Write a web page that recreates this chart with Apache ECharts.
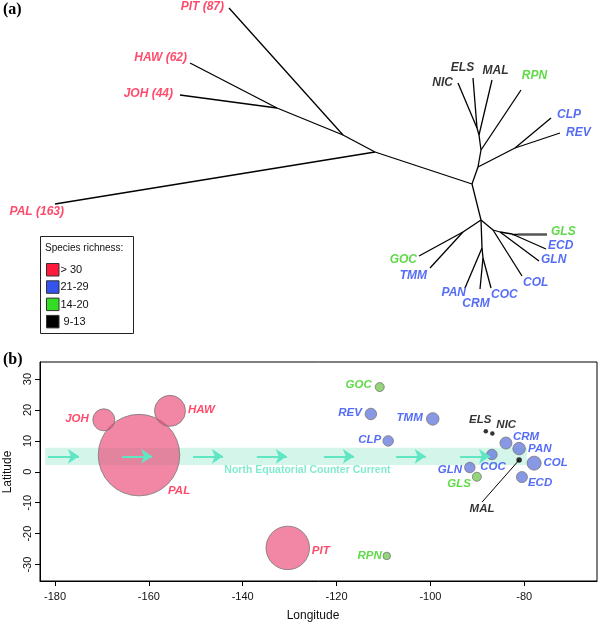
<!DOCTYPE html>
<html><head><meta charset="utf-8">
<script src="https://cdn.jsdelivr.net/npm/echarts@6/dist/echarts.min.js"></script>
<style>html,body{margin:0;padding:0;background:#fff}#c{width:600px;height:624px}</style>
</head><body><div id="c"></div>
<script>
// ===== Panel (a): unrooted tree (layout units) =====
const treeNodeNames = ['PIT','HAW','JOH','PAL','n1','n2','n3','n4','n5','n6','CLP','REV','n7','RPN','n8','MAL','n9','NIC','ELS','n10','n11','GOC','TMM','n12','PAN','n13','CRM','COC','n14','COL','n15','GLN','n16','ECD','n17','GLS'];
const treeNodeX = [229,190,180,55,277,343,375,472,478,515,551,560,481,521,479,492,477,458,473,481,463,419,430,482,465,483,480,491,493,522,500,539,512,546,518,547];
const treeNodeY = [8,63,95,204,108,135,152,184,167,148,118,133,150,90,135,80,128,83,78,220,232,256,268,248,288,258,289,288,230,276,232,261,234,249,234,234];
const treeEdges = [['n1','JOH'],['n1','HAW'],['n2','n1'],['n2','PIT'],['n3','n2'],['n3','PAL'],['n4','n3'],['n4','n5'],['n5','n6'],['n6','CLP'],['n6','REV'],['n5','n7'],['n7','RPN'],['n7','n8'],['n8','MAL'],['n8','n9'],['n9','NIC'],['n9','ELS'],['n4','n10'],['n10','n11'],['n11','GOC'],['n11','TMM'],['n10','n12'],['n12','PAN'],['n12','n13'],['n13','CRM'],['n13','COC'],['n10','n14'],['n14','COL'],['n14','n15'],['n15','GLN'],['n15','n16'],['n16','ECD'],['n16','n17']];
const treeThickEdges = [['n17','GLS']];
const tipNames  = ['PIT','HAW','JOH','PAL','NIC','ELS','MAL','RPN','CLP','REV','GLS','ECD','GLN','COL','COC','CRM','PAN','TMM','GOC'];
const tipLabels = ['PIT (87)','HAW (62)','JOH (44)','PAL (163)','NIC','ELS','MAL','RPN','CLP','REV','GLS','ECD','GLN','COL','COC','CRM','PAN','TMM','GOC'];
const tipClass  = ['red','red','red','red','black','black','black','green','blue','blue','green','blue','blue','blue','blue','blue','blue','blue','green'];
const legendTitle = 'Species richness:';
const legendLabels = ['> 30','21-29','14-20',' 9-13'];
const legendClass = ['red','blue','green','black'];

// ===== Panel (b): map =====
const siteNames = ['PAL','PIT','HAW','JOH','TMM','REV','CLP','CRM','PAN','COC','COL','GLN','ECD','GOC','GLS','RPN','ELS','NIC','MAL'];
const siteLon   = [-162.1,-130.4,-155.5,-169.6,-99.5,-112.7,-109.0,-83.9,-81.1,-86.9,-77.9,-91.6,-80.5,-110.8,-90.1,-109.3,-88.2,-86.8,-81.1];
const siteLat   = [5.4,-24.6,19.7,16.8,17.1,18.7,10.0,9.3,7.5,5.6,2.8,1.4,-1.7,27.4,-1.6,-27.2,13.1,12.4,3.8];
const siteRichness = [163,87,62,44,25,23,21,24,25,21,28,21,22,18,18,15,9,9,11];
const siteClass = ['red','red','red','red','blue','blue','blue','blue','blue','blue','blue','blue','blue','green','green','green','black','black','black'];
const arrowStartLon = [-181.5,-165.7,-150.6,-137.0,-122.7,-107.3,-93.7];
const arrowEndLon   = [-174.9,-159.3,-144.2,-130.6,-116.3,-101.0,-87.3];
const arrowLat = 5.0;
const currentLon = [-182.1,-79.4];
const currentLat = [2.2,7.8];
const currentName = 'North Equatorial Counter Current';
const currentLabelPos = [-126.2,0.6];
const malLeader = [[-81.1,3.8],[-89.0,-9.8]];
const xTicks = [-180,-160,-140,-120,-100,-80];
const yTicks = [-30,-20,-10,0,10,20,30];

// ===== styles =====
const FONT = '"Liberation Sans", Arial, Helvetica, sans-serif';
const textColor = {red:'#FF1E46', blue:'#2B47F2', green:'#38D01C', black:'#000000'};
const bubbleColor = {red:'rgba(235,72,118,0.82)', blue:'#6A7EDD', green:'#7ACB57', black:'#000000'};
const swatchColor = {red:'#FF1A3C', blue:'#3352EE', green:'#33DD22', black:'#000000'};
const tipLabelStyle = {
 PIT:['right',-5,-1.5], HAW:['right',-3,-5], JOH:['right',-7,-1], PAL:['right',9,8],
 NIC:['right',-5,0], ELS:['center',-10.5,-10], MAL:['center',3.5,-9], RPN:['center',13.5,-14],
 CLP:['left',6,-3], REV:['left',6,0], GLS:['left',4,-2], ECD:['left',2,-3], GLN:['left',2,-1],
 COL:['left',1,7], COC:['left',0,7], CRM:['center',-4,15], PAN:['right',1,5], TMM:['right',-3,8], GOC:['right',-2,4]
};
const siteLabelStyle = {
 JOH:['right',-15,-1], HAW:['left',18,-1], PAL:['left',29,36], PIT:['left',24,3], RPN:['right',-5,0],
 GOC:['right',-8,-2], REV:['right',-9,-1], TMM:['right',-10,-1], CLP:['right',-7,-1],
 ELS:['center',-5.5,-11], NIC:['left',4,-9], CRM:['left',7,-6], PAN:['left',9,0], COL:['left',9.3,0],
 COC:['left',-11.7,12.5], GLN:['right',-7.7,2], GLS:['right',-6,7.5], ECD:['left',6,6]
};

const nodeIndex = {};
treeNodeNames.forEach((n,i)=>nodeIndex[n]=i);
const pt = n => [treeNodeX[nodeIndex[n]], treeNodeY[nodeIndex[n]]];

const labelFont = {fontFamily:FONT, fontWeight:'bold', fontStyle:'italic'};

const tipData = tipNames.map((n,i)=>{
  const s = tipLabelStyle[n];
  return {value:pt(n), label:Object.assign({show:true, formatter:tipLabels[i], position:'inside', align:s[0], verticalAlign:'middle', offset:[s[1],s[2]], color:textColor[tipClass[i]], fontSize:12}, labelFont)};
});

const siteData = siteNames.map((n,i)=>{
  const s = siteLabelStyle[n];
  const item = {name:n, value:[siteLon[i], siteLat[i]], symbolSize: siteRichness[i]/2,
    itemStyle:{color:bubbleColor[siteClass[i]], borderColor: siteClass[i]==='black' ? '#000' : '#777', borderWidth: siteClass[i]==='black'?0:1}};
  if (s) item.label = Object.assign({show:true, formatter:n, position:'inside', align:s[0], verticalAlign:'middle', offset:[s[1],s[2]], color:textColor[siteClass[i]], fontSize:11.5}, labelFont);
  else item.label = {show:false};
  return item;
});

const legendGraphics = [
  {type:'rect', shape:{x:40.5,y:236.5,width:93,height:97}, style:{fill:'none', stroke:'#222', lineWidth:1}},
  {type:'text', x:45, y:248, style:{text:legendTitle, font:'10px '+FONT, fill:'#111', verticalAlign:'middle'}}
];
legendLabels.forEach((t,i)=>{
  const y = 263 + i*17.3;
  legendGraphics.push({type:'rect', shape:{x:46.5,y:y+0.5,width:12.5,height:12.5}, style:{fill:swatchColor[legendClass[i]], stroke:'#333', lineWidth:1}});
  legendGraphics.push({type:'text', x:60.5, y:y+7, style:{text:t, font:'11px '+FONT, fill:'#111', verticalAlign:'middle'}});
});

const option = {
  animation:false,
  backgroundColor:'#fff',
  grid:[
    {left:0, top:0, width:600, height:350, show:false},
    {left:40, top:362, width:557, height:219, show:true, borderColor:'#000', borderWidth:1, backgroundColor:'transparent'}
  ],
  xAxis:[
    {gridIndex:0, type:'value', min:0, max:600, show:false},
    {gridIndex:1, type:'value', min:-183.2, max:-64.5,
      axisLine:{show:true, onZero:false, lineStyle:{color:'#000', width:1}},
      axisTick:{show:true, inside:false, length:5, customValues:xTicks, lineStyle:{color:'#000'}},
      axisLabel:{customValues:xTicks, fontSize:11, color:'#111', margin:10, fontFamily:FONT},
      splitLine:{show:false}}
  ],
  yAxis:[
    {gridIndex:0, type:'value', min:0, max:350, inverse:true, show:false},
    {gridIndex:1, type:'value', min:-35.3, max:35.5,
      axisLine:{show:true, onZero:false, lineStyle:{color:'#000', width:1}},
      axisTick:{show:true, inside:false, length:5, customValues:yTicks, lineStyle:{color:'#000'}},
      axisLabel:{customValues:yTicks, fontSize:11, color:'#111', margin:7, rotate:90, fontFamily:FONT},
      splitLine:{show:false}}
  ],
  graphic: legendGraphics.concat([
    {type:'text', x:3, y:10, style:{text:'(a)', font:'bold 16px "Liberation Serif", "DejaVu Serif", serif', fill:'#000', verticalAlign:'middle'}},
    {type:'text', x:3, y:360, style:{text:'(b)', font:'bold 16px "Liberation Serif", "DejaVu Serif", serif', fill:'#000', verticalAlign:'middle'}},
    {type:'text', x:313, y:616, style:{text:'Longitude', font:'12px '+FONT, fill:'#111', align:'center', verticalAlign:'middle'}},
    {type:'text', x:8, y:472, rotation:Math.PI/2, style:{text:'Latitude', font:'12px '+FONT, fill:'#111', align:'center', verticalAlign:'middle'}}
  ]),
  series:[
    {type:'lines', coordinateSystem:'cartesian2d', xAxisIndex:0, yAxisIndex:0, silent:true,
      lineStyle:{color:'#000', width:1.3, opacity:1},
      data: treeEdges.map(e=>({coords:[pt(e[0]), pt(e[1])]}))},
    {type:'lines', coordinateSystem:'cartesian2d', xAxisIndex:0, yAxisIndex:0, silent:true,
      lineStyle:{color:'#555', width:2.5, opacity:1},
      data: treeThickEdges.map(e=>({coords:[pt(e[0]), pt(e[1])]}))},
    {type:'scatter', xAxisIndex:0, yAxisIndex:0, symbolSize:0, silent:true, data:tipData},
    // band
    {type:'scatter', xAxisIndex:1, yAxisIndex:1, data:[], silent:true, z:1,
      markArea:{silent:true, itemStyle:{color:'#D3F5EA'}, data:[[{xAxis:currentLon[0], yAxis:currentLat[0]},{xAxis:currentLon[1], yAxis:currentLat[1]}]]}},
    // bubbles
    {type:'scatter', xAxisIndex:1, yAxisIndex:1, silent:true, z:3, data:siteData},
    // arrows
    {type:'lines', coordinateSystem:'cartesian2d', xAxisIndex:1, yAxisIndex:1, silent:true, z:4,
      symbol:['none','arrow'], symbolSize:[9,11],
      lineStyle:{color:'#5FE6C3', width:2, opacity:1},
      data: arrowStartLon.map((s,i)=>({coords:[[s,arrowLat],[arrowEndLon[i],arrowLat]]}))},
    // MAL leader
    {type:'lines', coordinateSystem:'cartesian2d', xAxisIndex:1, yAxisIndex:1, silent:true, z:4,
      lineStyle:{color:'#000', width:1, opacity:1},
      data:[{coords:malLeader}]},
    {type:'scatter', xAxisIndex:1, yAxisIndex:1, symbolSize:0, silent:true, z:5,
      data:[
        {value:currentLabelPos, label:{show:true, formatter:currentName, position:'inside', color:'#62E6C4', fontSize:10.5, fontWeight:'bold', fontFamily:FONT}},
        {value:malLeader[1], label:Object.assign({show:true, formatter:'MAL', position:'inside', align:'center', verticalAlign:'middle', offset:[0,7], color:'#000', fontSize:11.5}, labelFont)}
      ]}
  ]
};
echarts.init(document.getElementById('c'), null, {renderer:'canvas'}).setOption(option);
</script></body></html>
